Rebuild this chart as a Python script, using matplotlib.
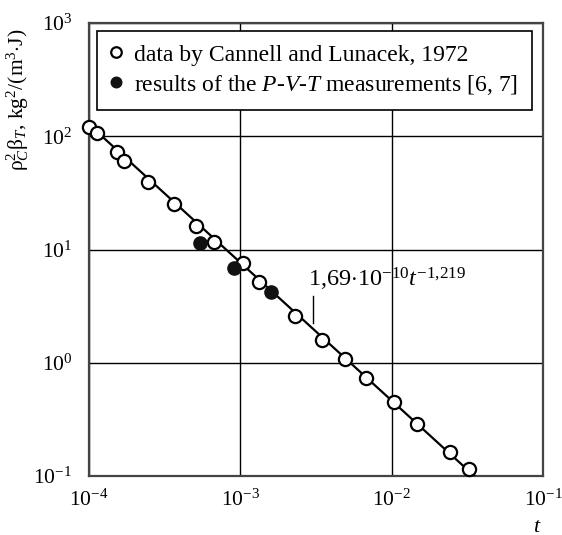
import numpy as np
import matplotlib
matplotlib.use("Agg")
import matplotlib.pyplot as plt

# data
t_open = [1.0e-4, 1.125e-4, 1.52e-4, 1.71e-4, 2.47e-4, 3.63e-4, 5.12e-4, 6.73e-4,
          1.04e-3, 1.33e-3, 2.31e-3, 3.47e-3, 4.94e-3, 6.78e-3, 1.03e-2, 1.46e-2,
          2.44e-2, 3.24e-2]
y_open = [121, 106, 73, 61, 39.5, 25.3, 16.1, 11.6,
          7.57, 5.14, 2.61, 1.60, 1.09, 0.731, 0.446, 0.290,
          0.163, 0.116]
t_filled = [5.45e-4, 9.12e-4, 1.60e-3]
y_filled = [11.5, 6.84, 4.22]

# power-law fit drawn through the points
fit_coef = 1.69e-3
fit_exp = -1.219
fit_range = [1.0e-4, 3.6e-2]

plt.rcParams["font.family"] = ["Liberation Serif", "DejaVu Serif"]
plt.rcParams["mathtext.fontset"] = "custom"
plt.rcParams["mathtext.rm"] = "Liberation Serif"
plt.rcParams["mathtext.it"] = "Liberation Serif:italic"
plt.rcParams["mathtext.bf"] = "Liberation Serif:bold"

fig = plt.figure(figsize=(5.62, 5.35), dpi=100)
ax = fig.add_axes([89 / 562, 1 - 476 / 535, 454 / 562, 453 / 535])

tf = np.logspace(np.log10(fit_range[0]), np.log10(fit_range[1]), 100)
ax.plot(tf, fit_coef * tf ** fit_exp, color="black", lw=1.6, zorder=3)

ax.plot(t_open, y_open, "o", ms=9.5, mfc="white", mec="black", mew=1.6,
        zorder=4, label="data by Cannell and Lunacek, 1972", clip_on=False)
ax.plot(t_filled, y_filled, "o", ms=9.5, mfc="#111111", mec="#111111", mew=1,
        zorder=4, label="results of the $P$-$V$-$T$ measurements [6, 7]")

ax.set_xscale("log")
ax.set_yscale("log")
ax.set_xlim(1e-4, 1e-1)
ax.set_ylim(1e-1, 1e3)
ax.minorticks_off()
ax.grid(True, which="major", color="black", lw=1.0)
ax.set_axisbelow(True)
for s in ax.spines.values():
    s.set_color("#444444")
    s.set_linewidth(1.6)
ax.tick_params(length=0, labelsize=15.5)
ax.tick_params(axis="x", pad=10)
ax.tick_params(axis="y", pad=12)

# fit label with its small pointer
ax.text(2.82e-3, 4.75, r"1,69$\cdot$10$^{-10}$$t^{-1{,}219}$", fontsize=17.5,
        ha="left", va="baseline")
ax.plot([3.02e-3, 3.02e-3], [2.25, 3.9], color="black", lw=1.0)

leg = ax.legend(loc="upper left", bbox_to_anchor=(0.017, 0.982), borderaxespad=0,
                fontsize=17, frameon=True, fancybox=False, handlelength=0.5,
                handletextpad=0.55, borderpad=0.55, labelspacing=0.3,
                markerscale=0.8)
leg.get_frame().set_edgecolor("black")
leg.get_frame().set_linewidth(1.2)
leg.get_frame().set_alpha(1)

fig.text(18 / 562, 1 - 100 / 535, r"$\mathrm{\rho}_C^2\mathrm{\beta}_{T}$, kg$^2$/(m$^3$$\cdot$J)",
         rotation=90, ha="center", va="center", fontsize=15.5)
fig.text(537 / 562, 1 - 527 / 535, "$t$", ha="center", va="center", fontsize=16)

fig.savefig("out.png", dpi=100)
